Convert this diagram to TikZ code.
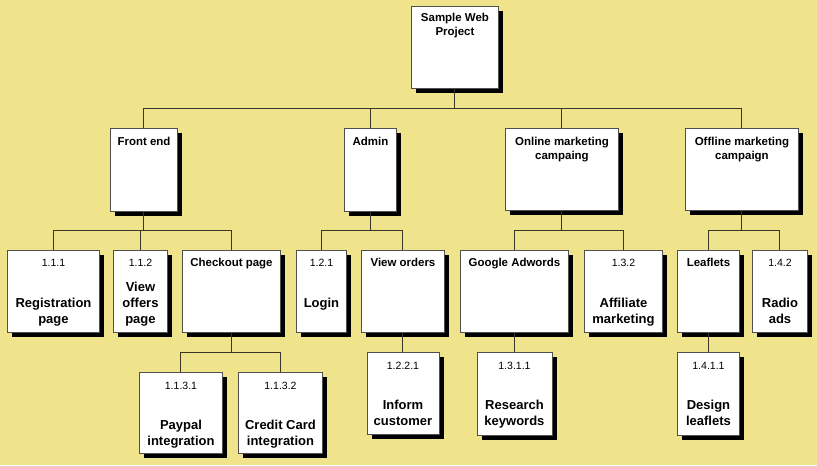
\documentclass[tikz,border=0pt]{standalone}
\usepackage{fontspec}
\setmainfont{Liberation Sans}
\usetikzlibrary{shadows}
\definecolor{bgyellow}{RGB}{239,228,140}
\definecolor{linkgray}{RGB}{60,52,36}
\definecolor{boxgray}{RGB}{80,80,80}
\tikzset{%
  block/.style 2 args = {draw=boxgray, fill=white, line width=0.7pt,
    anchor=north west, inner sep=0pt,
    minimum width=#1*0.75pt, minimum height=#2*0.75pt,
    drop shadow={shadow xshift=3.4pt, shadow yshift=-3.4pt,
      fill=black, opacity=1}}, % Box
  headtxt/.style = {anchor=north, inner sep=0pt, align=center,
    font=\fontsize{8.6}{10.5}\selectfont\bfseries}, % Box title
  numtxt/.style  = {anchor=north, inner sep=0pt,
    font=\fontsize{7.9}{9.5}\selectfont}, % Task number
  bigtxt/.style  = {anchor=north, inner sep=0pt, align=center,
    font=\fontsize{9.75}{12}\selectfont\bfseries}, % Task name
  link/.style    = {draw=linkgray, line width=0.75pt}
}

\begin{document}
\begin{tikzpicture}[x=0.75pt, y=-0.75pt]
        \fill[bgyellow] (0,0) rectangle (817,465);
        \useasboundingbox (0,0) rectangle (817,465);
        % level 0
        \node[block={87}{82}] (root) at (411,6) {};
        \node[headtxt] (t-root) at ([yshift=-5.3pt]root.north) {Sample Web\\Project};
        % level 1
        \node[block={67}{83}] (fe) at (110,128) {};
        \node[block={52}{83}] (adm) at (344,128) {};
        \node[block={113}{82}] (onl) at (505,128) {};
        \node[block={113}{82}] (off) at (685,128) {};
        \node[headtxt] (t-fe) at ([yshift=-6.5pt]fe.north) {Front end};
        \node[headtxt] (t-adm) at ([yshift=-6.5pt]adm.north) {Admin};
        \node[headtxt] (t-onl) at ([yshift=-6.5pt]onl.north) {Online marketing\\campaing};
        \node[headtxt] (t-off) at ([yshift=-6.5pt]off.north) {Offline marketing\\campaign};
        % level 2
        \node[block={92}{82}] (reg) at (7,250) {};
        \node[block={54}{82}] (vof) at (113,250) {};
        \node[block={98}{82}] (chk) at (182,250) {};
        \node[block={50}{82}] (lgn) at (296,250) {};
        \node[block={83}{82}] (vord) at (361,250) {};
        \node[block={108}{82}] (gad) at (460,250) {};
        \node[block={78}{82}] (aff) at (584,250) {};
        \node[block={62}{82}] (lfl) at (677,250) {};
        \node[block={55}{82}] (rad) at (752,250) {};
        \node[numtxt] (n-reg) at ([yshift=-7pt]reg.north) {1.1.1};
        \node[bigtxt] (t-reg) at ([yshift=-36pt]reg.north) {Registration\\page};
        \node[numtxt] (n-vof) at ([yshift=-7pt]vof.north) {1.1.2};
        \node[bigtxt] (t-vof) at ([yshift=-24pt]vof.north) {View\\offers\\page};
        \node[headtxt] (t-chk) at ([yshift=-6pt]chk.north) {Checkout page};
        \node[numtxt] (n-lgn) at ([yshift=-7pt]lgn.north) {1.2.1};
        \node[bigtxt] (t-lgn) at ([yshift=-36pt]lgn.north) {Login};
        \node[headtxt] (t-vord) at ([yshift=-6pt]vord.north) {View orders};
        \node[headtxt] (t-gad) at ([yshift=-6pt]gad.north) {Google Adwords};
        \node[numtxt] (n-aff) at ([yshift=-7pt]aff.north) {1.3.2};
        \node[bigtxt] (t-aff) at ([yshift=-36pt]aff.north) {Affiliate\\marketing};
        \node[headtxt] (t-lfl) at ([yshift=-6pt]lfl.north) {Leaflets};
        \node[numtxt] (n-rad) at ([yshift=-7pt]rad.north) {1.4.2};
        \node[bigtxt] (t-rad) at ([yshift=-36pt]rad.north) {Radio\\ads};
        % level 3
        \node[block={83}{81}] (pay) at (139,372) {};
        \node[block={84}{81}] (ccd) at (238,372) {};
        \node[block={72}{82}] (inf) at (366.5,352) {};
        \node[block={75}{83}] (rsk) at (476.5,352) {};
        \node[block={62}{83}] (dsl) at (677,352) {};
        \node[numtxt] (n-pay) at ([yshift=-7.5pt]pay.north) {1.1.3.1};
        \node[bigtxt] (t-pay) at ([yshift=-36pt]pay.north) {Paypal\\integration};
        \node[numtxt] (n-ccd) at ([yshift=-7.5pt]ccd.north) {1.1.3.2};
        \node[bigtxt] (t-ccd) at ([yshift=-36pt]ccd.north) {Credit Card\\integration};
        \node[numtxt] (n-inf) at ([yshift=-7.5pt]inf.north) {1.2.2.1};
        \node[bigtxt] (t-inf) at ([yshift=-36pt]inf.north) {Inform\\customer};
        \node[numtxt] (n-rsk) at ([yshift=-7.5pt]rsk.north) {1.3.1.1};
        \node[bigtxt] (t-rsk) at ([yshift=-36pt]rsk.north) {Research\\keywords};
        \node[numtxt] (n-dsl) at ([yshift=-7.5pt]dsl.north) {1.4.1.1};
        \node[bigtxt] (t-dsl) at ([yshift=-36pt]dsl.north) {Design\\leaflets};
        % connectors
        \draw[link] (root.south) -- ++(0,20) -| (fe.north);
        \draw[link] (root.south) -- ++(0,20) -| (adm.north);
        \draw[link] (root.south) -- ++(0,20) -| (onl.north);
        \draw[link] (root.south) -- ++(0,20) -| (off.north);
        \draw[link] (fe.south) -- ++(0,19) -| (reg.north);
        \draw[link] (fe.south) -- ++(0,19) -| (vof.north);
        \draw[link] (fe.south) -- ++(0,19) -| (chk.north);
        \draw[link] (adm.south) -- ++(0,19) -| (lgn.north);
        \draw[link] (adm.south) -- ++(0,19) -| (vord.north);
        \draw[link] (onl.south) -- ++(0,20) -| (gad.north);
        \draw[link] (onl.south) -- ++(0,20) -| (aff.north);
        \draw[link] (off.south) -- ++(0,20) -| (lfl.north);
        \draw[link] (off.south) -- ++(0,20) -| (rad.north);
        \draw[link] (chk.south) -- ++(0,20) -| (pay.north);
        \draw[link] (chk.south) -- ++(0,20) -| (ccd.north);
        \draw[link] (vord.south) -- (inf.north);
        \draw[link] (gad.south) -- (rsk.north);
        \draw[link] (lfl.south) -- (dsl.north);
\end{tikzpicture}
\end{document}
